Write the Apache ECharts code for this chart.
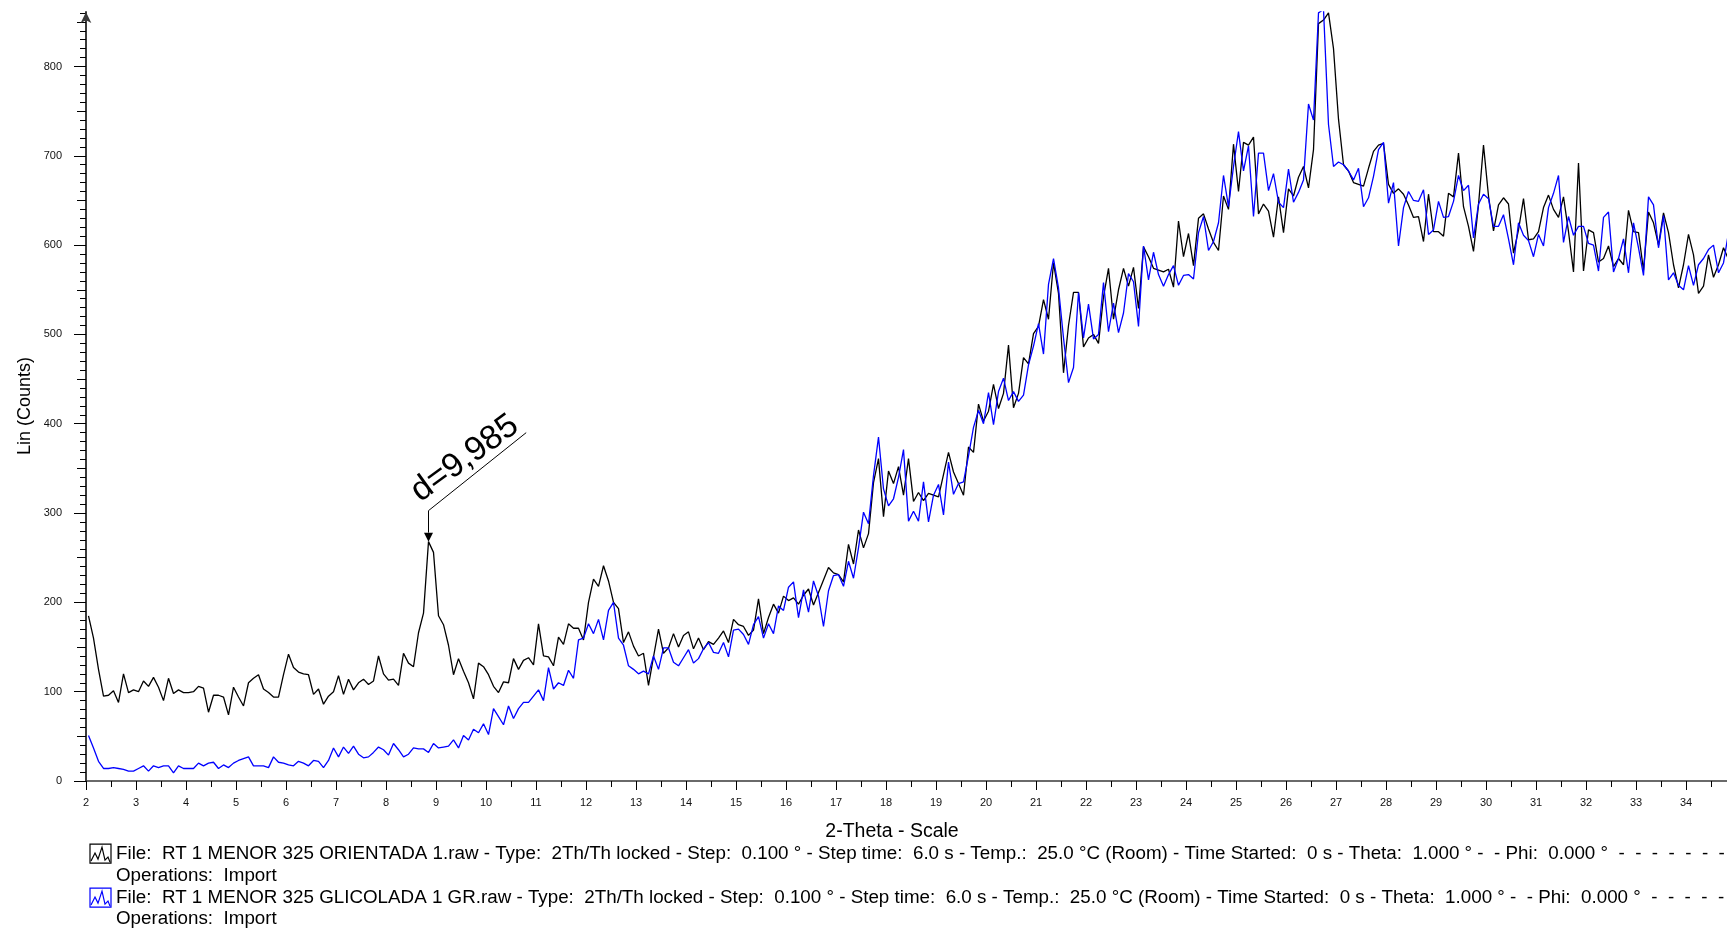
<!DOCTYPE html>
<html>
<head>
<meta charset="utf-8">
<title>RT 1 MENOR 325</title>
<script src="https://cdn.jsdelivr.net/npm/echarts@6/dist/echarts.min.js"></script>
<style>
  html, body { margin: 0; padding: 0; background: #ffffff; }
  #chart { width: 1727px; height: 930px; }
</style>
</head>
<body>
<div id="chart"></div>
<script>
// Scan settings from the file header: first step at 2.05°, step 0.100°
const SCAN_START = 2.05;
const SCAN_STEP = 0.1;

// RT 1 MENOR 325 ORIENTADA 1.raw  (Lin counts, one value per step)
const orientada = [
  185,160,125,95,96,101,88,120,99,102,
  100,112,106,116,105,90,115,98,102,99,
  99,100,106,104,77,96,96,94,74,105,
  94,84,110,115,119,103,99,94,94,119,
  142,127,122,120,119,97,103,86,95,100,
  118,97,114,102,110,114,108,112,140,120,
  113,114,107,143,132,128,166,188,268,256,
  185,175,152,119,137,123,110,92,132,128,
  119,106,99,111,110,137,125,135,138,130,
  176,140,139,129,161,153,176,171,171,158,
  200,226,218,241,224,200,193,155,167,151,
  140,143,107,139,170,143,149,165,150,163,
  167,148,160,147,156,153,160,168,155,181,
  175,173,163,169,204,165,183,198,188,207,
  202,205,198,208,215,197,211,225,239,233,
  231,223,265,243,281,261,277,334,361,296,
  347,333,352,320,361,313,323,314,322,320,
  318,343,368,346,333,320,374,368,422,403,
  414,444,417,434,488,418,434,474,467,501,
  509,539,517,580,546,457,510,547,547,486,
  496,500,490,542,574,517,550,574,554,575,
  529,598,587,574,572,570,573,553,627,587,
  613,577,630,635,618,603,594,655,640,713,
  660,715,712,721,635,646,638,609,654,614,
  663,655,676,688,664,707,848,852,860,820,
  741,690,683,670,668,666,686,705,712,714,
  668,658,663,657,645,631,632,604,657,615,
  615,610,658,654,703,643,621,593,645,712,
  655,616,645,653,646,591,617,652,606,607,
  615,642,656,640,631,654,615,570,692,571,
  617,614,581,585,599,576,585,578,639,615,
  614,572,637,625,600,636,614,578,552,578,
  612,589,546,554,589,564,578,597,584
];

// RT 1 MENOR 325 GLICOLADA 1 GR.raw
const glicolada = [
  51,37,22,14,14,15,14,13,11,11,
  14,17,11,17,15,17,17,9,17,14,
  14,14,20,17,20,21,14,18,15,20,
  23,25,27,17,17,17,15,27,21,20,
  18,17,22,20,17,23,22,15,23,37,
  27,38,31,39,30,26,27,32,38,35,
  29,42,35,27,30,37,36,36,32,42,
  37,38,39,46,37,51,46,58,54,64,
  52,81,72,63,84,70,81,88,88,95,
  102,90,127,103,110,107,124,115,158,160,
  176,165,181,158,191,200,160,152,129,125,
  120,123,120,140,125,149,149,133,129,138,
  147,132,137,148,155,144,143,155,139,169,
  170,164,153,175,184,160,176,165,196,191,
  217,223,183,214,189,224,207,173,213,230,
  231,218,246,227,261,301,288,342,385,327,
  308,316,340,371,291,302,291,335,290,320,
  332,298,357,321,333,335,364,396,415,400,
  435,399,436,451,426,436,425,432,466,487,
  512,478,556,585,552,496,446,463,547,496,
  534,495,500,558,503,535,502,524,568,559,
  509,599,561,592,567,554,567,577,555,566,
  567,562,614,632,594,604,625,678,643,688,
  727,683,711,632,703,703,661,680,648,642,
  685,648,659,673,758,740,860,864,735,688,
  693,690,683,673,686,643,653,677,707,715,
  647,670,599,642,660,650,649,662,612,617,
  649,631,632,649,678,661,667,608,646,657,
  652,621,621,634,607,578,625,611,605,587,
  612,599,642,658,678,603,632,611,621,621,
  602,600,571,631,637,570,585,607,569,625,
  597,566,654,645,597,633,561,569,555,550,
  577,555,578,585,595,600,569,580,614
];

// Axis labels
const xTickLabels = [2,3,4,5,6,7,8,9,10,11,12,13,14,15,16,17,18,19,20,21,22,23,24,25,26,27,28,29,30,31,32,33,34];
const yTickLabels = [0,100,200,300,400,500,600,700,800];

// Peak marked on the oriented pattern
const peakIndex = 68;
const peakText = 'd=9,985';

// Legend entries
const fileLines = [
  'File:  RT 1 MENOR 325 ORIENTADA 1.raw - Type:  2Th/Th locked - Step:  0.100 ° - Step time:  6.0 s - Temp.:  25.0 °C (Room) - Time Started:  0 s - Theta:  1.000 ° -  - Phi:  0.000 °  -  -  -  -  -  -  -  -  -  -',
  'File:  RT 1 MENOR 325 GLICOLADA 1 GR.raw - Type:  2Th/Th locked - Step:  0.100 ° - Step time:  6.0 s - Temp.:  25.0 °C (Room) - Time Started:  0 s - Theta:  1.000 ° -  - Phi:  0.000 °  -  -  -  -  -  -  -  -  -  -'
];
const operationsText = 'Operations:  Import';
const xTitle = '2-Theta - Scale';
const yTitle = 'Lin (Counts)';

const X_MIN = 2, X_MAX = 34.82;
const Y_MIN = 0, Y_MAX = 861;
const FONT = '"Liberation Sans", Arial, sans-serif';
const BLACK = '#000000';
const BLUE = '#0000ff';

function angleAt(i) { return +(SCAN_START + i * SCAN_STEP).toFixed(2); }
const blackData = orientada.map((v, i) => [angleAt(i), v]);
const blueData = glicolada.map((v, i) => [angleAt(i), v]);

// tick positions between the labelled values
const xHalfTicks = xTickLabels.map(v => v + 0.5).filter(v => v < X_MAX);
const y50Ticks = [], y10Ticks = [];
for (let v = 0; v <= Y_MAX; v += 10) { y10Ticks.push(v); if (v % 50 === 0) y50Ticks.push(v); }

const tickLine = { color: '#000000', width: 1 };

const option = {
  animation: false,
  backgroundColor: '#ffffff',
  grid: { left: 86, right: 0, top: 12, bottom: 149, containLabel: false },
  xAxis: [
    {
      type: 'value', min: X_MIN, max: X_MAX, position: 'bottom',
      axisLine: { show: true, onZero: false, lineStyle: { color: '#3a3a3a', width: 1.6 } },
      axisTick: { show: true, customValues: xTickLabels, length: 9, lineStyle: tickLine },
      axisLabel: { show: true, customValues: xTickLabels, margin: 16, fontSize: 11, color: '#111', fontFamily: FONT },
      splitLine: { show: false }
    },
    {
      type: 'value', min: X_MIN, max: X_MAX, position: 'bottom',
      axisLine: { show: false, onZero: false },
      axisTick: { show: true, customValues: xHalfTicks, length: 6, lineStyle: tickLine },
      axisLabel: { show: false },
      splitLine: { show: false }
    }
  ],
  yAxis: [
    {
      type: 'value', min: Y_MIN, max: Y_MAX, position: 'left',
      axisLine: { show: true, symbol: ['none', 'arrow'], symbolSize: [8, 11], lineStyle: { color: '#3a3a3a', width: 2 } },
      axisTick: { show: true, customValues: yTickLabels, length: 12, lineStyle: tickLine },
      axisLabel: { show: true, customValues: yTickLabels, margin: 24, fontSize: 11, color: '#111', fontFamily: FONT },
      splitLine: { show: false }
    },
    {
      type: 'value', min: Y_MIN, max: Y_MAX, position: 'left',
      axisLine: { show: false },
      axisTick: { show: true, customValues: y50Ticks, length: 9, lineStyle: tickLine },
      axisLabel: { show: false }, splitLine: { show: false }
    },
    {
      type: 'value', min: Y_MIN, max: Y_MAX, position: 'left',
      axisLine: { show: false },
      axisTick: { show: true, customValues: y10Ticks, length: 6, lineStyle: tickLine },
      axisLabel: { show: false }, splitLine: { show: false }
    }
  ],
  series: [
    {
      name: 'ORIENTADA', type: 'line', xAxisIndex: 0, yAxisIndex: 0,
      data: blackData, showSymbol: false, symbol: 'none', clip: true, z: 2,
      lineStyle: { color: BLACK, width: 1.3 }, itemStyle: { color: BLACK }
    },
    {
      name: 'GLICOLADA', type: 'line', xAxisIndex: 0, yAxisIndex: 0,
      data: blueData, showSymbol: false, symbol: 'none', clip: true, z: 3,
      lineStyle: { color: BLUE, width: 1.3 }, itemStyle: { color: BLUE }
    }
  ]
};

const chart = echarts.init(document.getElementById('chart'), null, { renderer: 'canvas' });
chart.setOption(option);

// ---- annotation on the 9.985 Å reflection ----
const tip = chart.convertToPixel({ xAxisIndex: 0, yAxisIndex: 0 }, [angleAt(peakIndex), orientada[peakIndex]]);
const ang = 38.6 * Math.PI / 180;                   // leader direction
const textAng = 36 * Math.PI / 180;                 // label direction
const ux = Math.cos(ang), uy = -Math.sin(ang);      // along the leader
const nx = -Math.sin(ang), ny = -Math.cos(ang);     // normal, above the leader
const bend = [tip[0], tip[1] - 31];
const leaderEnd = [bend[0] + 125 * ux, bend[1] + 125 * uy];
const textAt = [bend[0] + 61 * ux + 18 * nx, bend[1] + 61 * uy + 18 * ny];

function legendIcon(x, y, color) {
  return {
    type: 'group', x: x, y: y,
    children: [
      { type: 'rect', shape: { x: 0, y: 0, width: 21, height: 19 }, style: { fill: 'none', stroke: color, lineWidth: 1.2 } },
      { type: 'polyline', shape: { points: [[1, 17], [5, 9], [8, 15], [12, 3], [15, 16], [18, 13], [20, 18]] }, style: { fill: 'none', stroke: color, lineWidth: 1.2 } }
    ]
  };
}
function plainText(x, y, text, size) {
  return {
    type: 'text', x: x, y: y,
    style: { text: text, x: 0, y: 0, fill: '#000', font: size + 'px ' + FONT, align: 'left', verticalAlign: 'middle' }
  };
}

const legendTop = [853.6, 897.6];
const LEGEND_SIZE = 18.8;
const elements = [
  // leader with arrow head
  { type: 'polygon', shape: { points: [[tip[0] - 4.5, tip[1] - 9], [tip[0] + 4.5, tip[1] - 9], [tip[0], tip[1]]] }, style: { fill: '#000' } },
  { type: 'polyline', shape: { points: [[tip[0], tip[1] - 9], bend, leaderEnd] }, style: { fill: 'none', stroke: '#000', lineWidth: 1 } },
  {
    type: 'text', x: textAt[0], y: textAt[1], rotation: textAng,
    style: { text: peakText, x: 0, y: 0, fill: '#000', font: '34px ' + FONT, align: 'center', verticalAlign: 'middle' }
  },
  // axis titles
  {
    type: 'text', x: 892, y: 831.5,
    style: { text: xTitle, x: 0, y: 0, fill: '#000', font: '19.5px ' + FONT, align: 'center', verticalAlign: 'middle' }
  },
  {
    type: 'text', x: 25, y: 406, rotation: Math.PI / 2,
    style: { text: yTitle, x: 0, y: 0, fill: '#000', font: '18px ' + FONT, align: 'center', verticalAlign: 'middle' }
  },
  // legend
  legendIcon(90, legendTop[0] - 9.5, BLACK),
  plainText(116, legendTop[0], fileLines[0], LEGEND_SIZE),
  plainText(116, legendTop[0] + 22, operationsText, LEGEND_SIZE),
  legendIcon(90, legendTop[1] - 9.5, BLUE),
  plainText(116, legendTop[1], fileLines[1], LEGEND_SIZE),
  plainText(116, legendTop[1] + 21, operationsText, LEGEND_SIZE)
];
chart.setOption({ graphic: { elements: elements } });
</script>
</body>
</html>
